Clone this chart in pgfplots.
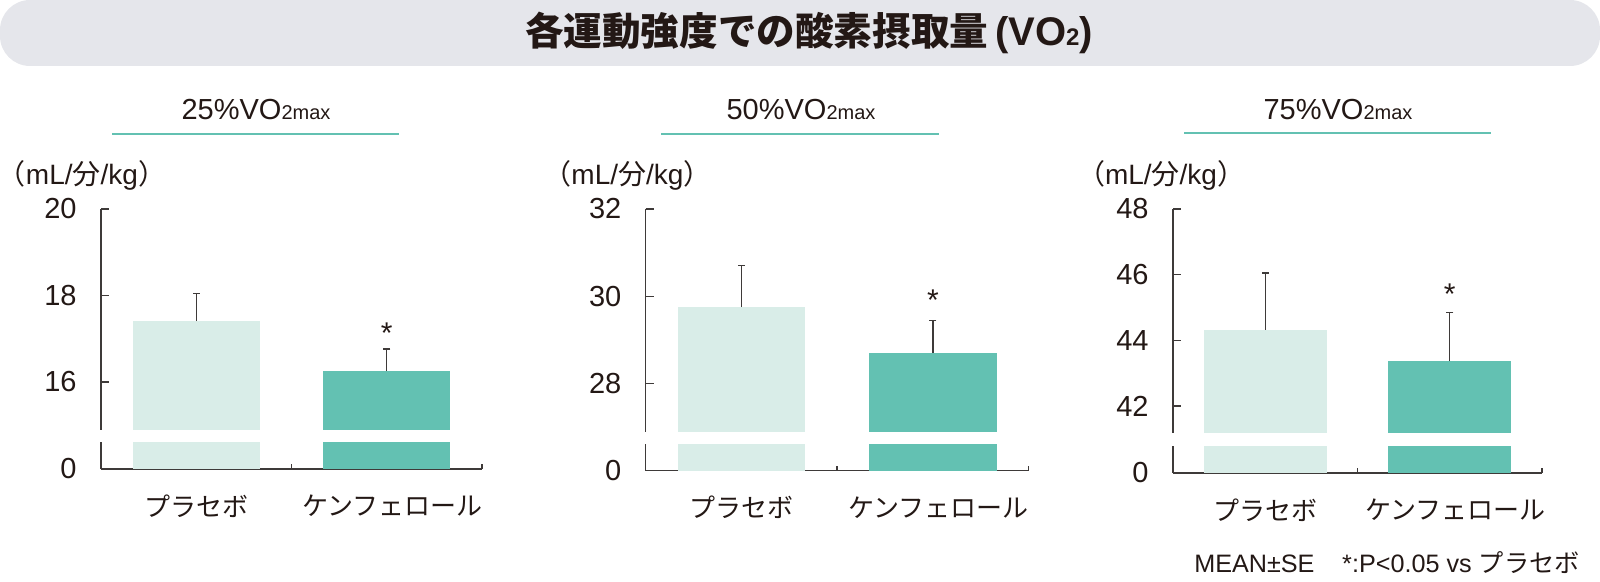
\documentclass[border=0pt]{standalone}
\usepackage{fontspec}
\setmainfont{Liberation Sans}
\newfontfamily\jp{Noto Sans CJK JP}
\usepackage{pgfplots}
\pgfplotsset{compat=1.18}

\definecolor{ink}{RGB}{35,24,21}
\definecolor{axisgray}{RGB}{62,58,57}
\definecolor{panelbg}{RGB}{229,230,235}
\definecolor{pale}{RGB}{217,237,232}
\definecolor{teal}{RGB}{99,193,178}

\pgfplotsset{
  base/.style={
    scale only axis, anchor=south west,
    xmin=0, xmax=1,
    ybar, bar width=0.333,
    tick align=inside,
    axis line style={draw=axisgray, line width=0.75pt},
    tick style={draw=axisgray, line width=0.75pt},
    yticklabel style={font=\fontsize{14.5}{16}\selectfont, text=ink, inner sep=0pt, xshift=-12pt},
    /pgf/number format/assume math mode=true,
  },
  upper/.style={
    base,
    axis x line=none, axis y line*=left,
    major tick length=4pt,
  },
  lower/.style={
    base, clip=false,
    ymin=0, ymax=1,
    axis x line*=bottom, axis y line*=left,
    xtick={0.5,1}, xticklabels={},
    ytick={0}, major tick length=2.5pt,
  },
  pl/.style={fill=pale, draw=none, bar shift=0pt},
  kf/.style={fill=teal, draw=none, bar shift=0pt},
  eb/.style={
    error bars/.cd, y dir=plus, y explicit, error mark=none,
    error bar style={draw=axisgray, line width=0.7pt},
  },
  % caps at mean + SE
  cap/.style={sharp plot, only marks, mark=-, mark size=1.75pt,
    mark options={draw=axisgray, line width=0.7pt}},
}
\newcommand{\cat}{\jp\fontsize{13}{15}\selectfont}
\newcommand{\unit}{{\jp\kern-0.45em（}mL/{\jp 分}/kg{\jp ）\kern-0.45em}}

\begin{document}
\begin{tikzpicture}
\path[use as bounding box] (0,0) rectangle (800pt,291pt);

% title banner
\fill[panelbg, rounded corners=15pt] (0,258pt) rectangle (800pt,291pt);
\node[text=ink, font=\fontsize{20}{22}\selectfont\bfseries] at (404.5pt,274.5pt)
  {{\jp\fontsize{19.3}{22}\selectfont 各運動強度での酸素摂取量}\,(VO{\fontsize{12}{12}\selectfont 2})};

% panel headings
\node[text=ink, font=\fontsize{14.5}{17}\selectfont] at (128pt,236.25pt) {25\%VO{\fontsize{10}{10}\selectfont 2max}};
\node[text=ink, font=\fontsize{14.5}{17}\selectfont] at (400.5pt,236.25pt) {50\%VO{\fontsize{10}{10}\selectfont 2max}};
\node[text=ink, font=\fontsize{14.5}{17}\selectfont] at (669pt,236.25pt) {75\%VO{\fontsize{10}{10}\selectfont 2max}};
\draw[teal, line width=1pt] (56pt,224.15pt) -- (199.5pt,224.15pt);
\draw[teal, line width=1pt] (330.5pt,224.15pt) -- (469.65pt,224.15pt);
\draw[teal, line width=1pt] (592pt,224.65pt) -- (745.5pt,224.65pt);

% units
\node[text=ink, font=\fontsize{14}{16}\selectfont, inner sep=0pt] at (41pt,203.5pt) {\unit};
\node[text=ink, font=\fontsize{14}{16}\selectfont, inner sep=0pt] at (313.75pt,203.5pt) {\unit};
\node[text=ink, font=\fontsize{14}{16}\selectfont, inner sep=0pt] at (580.5pt,203.5pt) {\unit};

% ---- 25% VO2max
\begin{axis}[upper, at={(50.5pt,76pt)}, width=190.5pt, height=110.5pt,
  ymin=14.89, ymax=20, ytick={16,18,20}]
\addplot[pl, eb] coordinates {(0.25,17.41) +- (0,0.63)};
\addplot[kf, eb] coordinates {(0.75,16.25) +- (0,0.51)};
\addplot[cap] coordinates {(0.25,18.04) (0.75,16.76)};
\node[text=ink, font=\fontsize{15}{15}\selectfont, yshift=-3pt] at (axis cs:0.75,17.27) {*};
\end{axis}
\begin{axis}[lower, at={(50.5pt,56.5pt)}, width=190.5pt, height=13.5pt]
\addplot[pl] coordinates {(0.25,1)};
\addplot[kf] coordinates {(0.75,1)};
\node[text=ink, font=\cat, yshift=-18.5pt] at (axis cs:0.25,0) {プラセボ};
\node[text=ink, font=\cat, yshift=-18.5pt] at (axis cs:0.765,0) {ケンフェロール};
\end{axis}

% ---- 50% VO2max
\begin{axis}[upper, at={(322.85pt,75.15pt)}, width=191.5pt, height=111.35pt,
  ymin=26.9, ymax=32, ytick={28,30,32}]
\addplot[pl, eb] coordinates {(0.25,29.75) +- (0,0.95)};
\addplot[kf, eb] coordinates {(0.75,28.70) +- (0,0.75)};
\addplot[cap] coordinates {(0.25,30.70) (0.75,29.45)};
\node[text=ink, font=\fontsize{15}{15}\selectfont, yshift=-3pt] at (axis cs:0.75,30.06) {*};
\end{axis}
\begin{axis}[lower, at={(322.85pt,55.65pt)}, width=191.5pt, height=13.35pt]
\addplot[pl] coordinates {(0.25,1)};
\addplot[kf] coordinates {(0.75,1)};
\node[text=ink, font=\cat, yshift=-18.5pt] at (axis cs:0.25,0) {プラセボ};
\node[text=ink, font=\cat, yshift=-18.5pt] at (axis cs:0.765,0) {ケンフェロール};
\end{axis}

% ---- 75% VO2max
\begin{axis}[upper, at={(586.5pt,74.5pt)}, width=184.5pt, height=112pt,
  ymin=41.18, ymax=48, ytick={42,44,46,48}]
\addplot[pl, eb] coordinates {(0.25,44.33) +- (0,1.72)};
\addplot[kf, eb] coordinates {(0.75,43.36) +- (0,1.49)};
\addplot[cap] coordinates {(0.25,46.05) (0.75,44.85)};
\node[text=ink, font=\fontsize{15}{15}\selectfont, yshift=-3pt] at (axis cs:0.75,45.6) {*};
\end{axis}
\begin{axis}[lower, at={(586.5pt,54.5pt)}, width=184.5pt, height=13.5pt]
\addplot[pl] coordinates {(0.25,1)};
\addplot[kf] coordinates {(0.75,1)};
\node[text=ink, font=\cat, yshift=-18.5pt] at (axis cs:0.25,0) {プラセボ};
\node[text=ink, font=\cat, yshift=-18.5pt] at (axis cs:0.765,0) {ケンフェロール};
\end{axis}

% footnote
\node[text=ink, font=\fontsize{12.6}{15}\selectfont, anchor=base east, inner sep=0pt]
  at (790pt,4.5pt) {MEAN±SE\hspace{1.1em}*:P<0.05 vs {\jp プラセボ}};
\end{tikzpicture}
\end{document}
